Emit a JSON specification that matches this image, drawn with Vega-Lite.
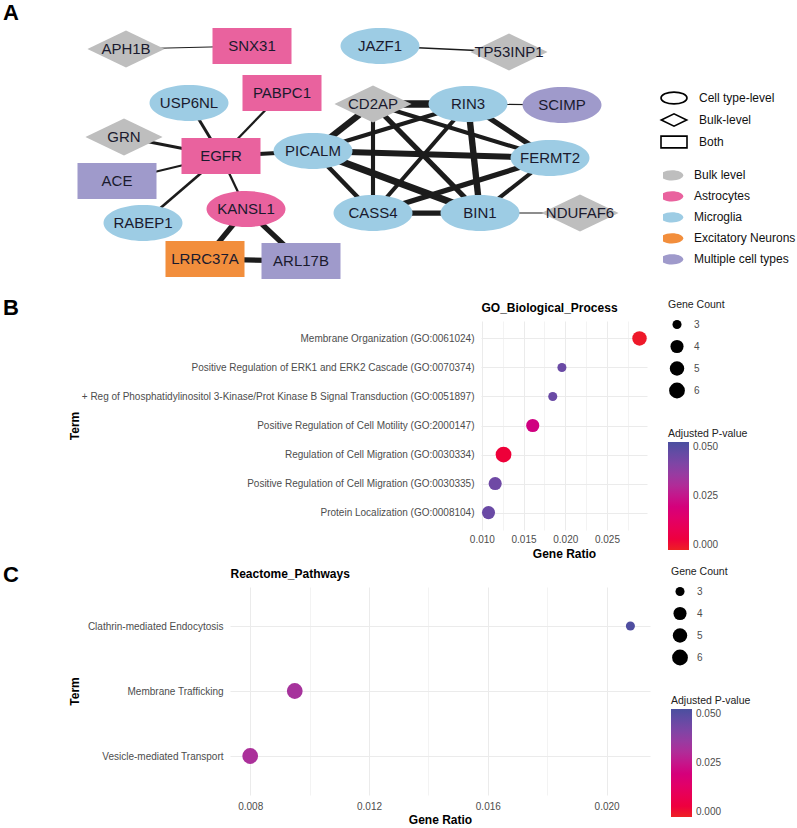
{
  "$schema": "https://vega.github.io/schema/vega-lite/v6.json",
  "padding": {"left": 2, "top": 2, "right": 2, "bottom": 0},
  "background": "white",
  "config": {
    "font": "Liberation Sans",
    "view": {"stroke": null},
    "axis": {"labelFont": "Liberation Sans", "titleFont": "Liberation Sans"},
    "legend": {"labelFont": "Liberation Sans", "titleFont": "Liberation Sans"},
    "title": {"font": "Liberation Sans"}
  },
  "datasets": {
    "spacer": [{"id": "spacer"}],
    "nodes": [
      {"id": "APH1B", "x": 125, "y": 48, "level": "Bulk-level", "cell": "Bulk level"},
      {"id": "SNX31", "x": 251, "y": 45, "level": "Both", "cell": "Astrocytes"},
      {"id": "JAZF1", "x": 379, "y": 45, "level": "Cell type-level", "cell": "Microglia"},
      {"id": "TP53INP1", "x": 508, "y": 51, "level": "Bulk-level", "cell": "Bulk level"},
      {"id": "USP6NL", "x": 188, "y": 102, "level": "Cell type-level", "cell": "Microglia"},
      {"id": "PABPC1", "x": 281, "y": 92, "level": "Both", "cell": "Astrocytes"},
      {"id": "CD2AP", "x": 372, "y": 103, "level": "Bulk-level", "cell": "Bulk level"},
      {"id": "RIN3", "x": 467, "y": 103, "level": "Cell type-level", "cell": "Microglia"},
      {"id": "SCIMP", "x": 561, "y": 104, "level": "Cell type-level", "cell": "Multiple cell types"},
      {"id": "GRN", "x": 123, "y": 136, "level": "Bulk-level", "cell": "Bulk level"},
      {"id": "EGFR", "x": 220, "y": 155, "level": "Both", "cell": "Astrocytes"},
      {"id": "PICALM", "x": 312, "y": 150, "level": "Cell type-level", "cell": "Microglia"},
      {"id": "FERMT2", "x": 549, "y": 157, "level": "Cell type-level", "cell": "Microglia"},
      {"id": "ACE", "x": 116, "y": 180, "level": "Both", "cell": "Multiple cell types"},
      {"id": "KANSL1", "x": 245, "y": 208, "level": "Cell type-level", "cell": "Astrocytes"},
      {"id": "RABEP1", "x": 142, "y": 222, "level": "Cell type-level", "cell": "Microglia"},
      {"id": "CASS4", "x": 372, "y": 212, "level": "Cell type-level", "cell": "Microglia"},
      {"id": "BIN1", "x": 479, "y": 212, "level": "Cell type-level", "cell": "Microglia"},
      {"id": "NDUFAF6", "x": 579, "y": 212, "level": "Bulk-level", "cell": "Bulk level"},
      {"id": "LRRC37A", "x": 204, "y": 258, "level": "Both", "cell": "Excitatory Neurons"},
      {"id": "ARL17B", "x": 300, "y": 260, "level": "Both", "cell": "Multiple cell types"}
    ],
    "edges": [
      {"source": "APH1B", "target": "SNX31", "score": 0.15},
      {"source": "JAZF1", "target": "TP53INP1", "score": 0.2},
      {"source": "USP6NL", "target": "EGFR", "score": 0.4},
      {"source": "PABPC1", "target": "EGFR", "score": 0.3},
      {"source": "GRN", "target": "EGFR", "score": 0.4},
      {"source": "ACE", "target": "EGFR", "score": 0.3},
      {"source": "RABEP1", "target": "EGFR", "score": 0.35},
      {"source": "KANSL1", "target": "EGFR", "score": 0.3},
      {"source": "PICALM", "target": "EGFR", "score": 0.55},
      {"source": "KANSL1", "target": "LRRC37A", "score": 0.7},
      {"source": "KANSL1", "target": "ARL17B", "score": 0.7},
      {"source": "LRRC37A", "target": "ARL17B", "score": 0.7},
      {"source": "RIN3", "target": "SCIMP", "score": 0.15},
      {"source": "BIN1", "target": "NDUFAF6", "score": 0.15},
      {"source": "CD2AP", "target": "RIN3", "score": 1.0},
      {"source": "CD2AP", "target": "PICALM", "score": 0.85},
      {"source": "CD2AP", "target": "CASS4", "score": 0.55},
      {"source": "CD2AP", "target": "BIN1", "score": 0.7},
      {"source": "CD2AP", "target": "FERMT2", "score": 0.55},
      {"source": "RIN3", "target": "PICALM", "score": 0.55},
      {"source": "RIN3", "target": "CASS4", "score": 0.55},
      {"source": "RIN3", "target": "BIN1", "score": 0.85},
      {"source": "RIN3", "target": "FERMT2", "score": 0.7},
      {"source": "PICALM", "target": "FERMT2", "score": 0.8},
      {"source": "PICALM", "target": "CASS4", "score": 0.6},
      {"source": "PICALM", "target": "BIN1", "score": 0.95},
      {"source": "CASS4", "target": "FERMT2", "score": 0.7},
      {"source": "BIN1", "target": "FERMT2", "score": 0.55},
      {"source": "CASS4", "target": "BIN1", "score": 0.7}
    ],
    "go": [
      {"term": "Membrane Organization (GO:0061024)", "ratio": 0.0289, "count": 5, "padj": 0.001},
      {"term": "Positive Regulation of ERK1 and ERK2 Cascade (GO:0070374)", "ratio": 0.0196, "count": 3, "padj": 0.044},
      {"term": "+ Reg of Phosphatidylinositol 3-Kinase/Prot Kinase B Signal Transduction (GO:0051897)", "ratio": 0.0185, "count": 3, "padj": 0.044},
      {"term": "Positive Regulation of Cell Motility (GO:2000147)", "ratio": 0.0161, "count": 4, "padj": 0.0215},
      {"term": "Regulation of Cell Migration (GO:0030334)", "ratio": 0.0126, "count": 6, "padj": 0.004},
      {"term": "Positive Regulation of Cell Migration (GO:0030335)", "ratio": 0.0116, "count": 4, "padj": 0.043},
      {"term": "Protein Localization (GO:0008104)", "ratio": 0.0108, "count": 4, "padj": 0.044}
    ],
    "reactome": [
      {"term": "Clathrin-mediated Endocytosis", "ratio": 0.0208, "count": 3, "padj": 0.049},
      {"term": "Membrane Trafficking", "ratio": 0.0095, "count": 6, "padj": 0.032},
      {"term": "Vesicle-mediated Transport", "ratio": 0.008, "count": 6, "padj": 0.031}
    ]
  },
  "columns": 2,
  "align": "none",
  "spacing": {"row": 5, "column": 0},
  "resolve": {"scale": {"color": "independent", "size": "independent", "shape": "independent"}},
  "concat": [
    {"width": 1, "height": 1, "data": {"name": "spacer"}, "mark": {"type": "point", "opacity": 0, "size": 0, "strokeWidth": 0}},
    {
      "width": 793,
      "height": 265,
      "title": {"text": "A", "anchor": "start", "frame": "group", "offset": 2, "fontSize": 22, "fontWeight": "bold", "color": "#000000"},
      "layer": [
        {
          "data": {"name": "edges"},
          "transform": [
            {"lookup": "source", "from": {"data": {"name": "nodes"}, "key": "id", "fields": ["x", "y"]}, "as": ["sx", "sy"]},
            {"lookup": "target", "from": {"data": {"name": "nodes"}, "key": "id", "fields": ["x", "y"]}, "as": ["tx", "ty"]}
          ],
          "mark": {"type": "rule", "color": "#1c1c1c", "strokeCap": "butt"},
          "encoding": {
            "x": {"field": "sx", "type": "quantitative", "scale": {"domain": [2, 795], "nice": false, "zero": false}, "axis": null},
            "y": {"field": "sy", "type": "quantitative", "scale": {"domain": [26, 291], "nice": false, "zero": false, "reverse": true}, "axis": null},
            "x2": {"field": "tx"},
            "y2": {"field": "ty"},
            "strokeWidth": {"field": "score", "type": "quantitative", "scale": {"domain": [0, 1], "range": [0, 7.5]}, "legend": null}
          }
        },
        {
          "data": {"name": "nodes"},
          "mark": {"type": "point", "filled": true, "opacity": 1, "size": 3693, "strokeWidth": 0},
          "encoding": {
            "x": {"field": "x", "type": "quantitative", "scale": {"domain": [2, 795], "nice": false, "zero": false}, "axis": null},
            "y": {"field": "y", "type": "quantitative", "scale": {"domain": [26, 291], "nice": false, "zero": false, "reverse": true}, "axis": null},
            "shape": {
              "field": "level", "type": "nominal",
              "scale": {
                "domain": ["Cell type-level", "Bulk-level", "Both"],
                "range": [
                  "M-1.3,0C-1.3,-0.327,-0.718,-0.592,0,-0.592C0.718,-0.592,1.3,-0.327,1.3,0C1.3,0.327,0.718,0.592,0,0.592C-0.718,0.592,-1.3,0.327,-1.3,0Z",
                  "M-1.27,0L0,-0.61L1.27,0L0,0.61Z",
                  "M-1.3,-0.592L1.3,-0.592L1.3,0.592L-1.3,0.592Z"
                ]
              },
              "legend": {
                "orient": "none", "legendX": 660, "legendY": 60, "title": null,
                "symbolSize": 400, "symbolFillColor": "#FFFFFF", "symbolStrokeColor": "#000000", "symbolStrokeWidth": 1.6, "symbolOpacity": 1,
                "labelFontSize": 12, "labelColor": "#111111", "labelOffset": 14, "rowPadding": 1
              }
            },
            "color": {
              "field": "cell", "type": "nominal",
              "scale": {
                "domain": ["Bulk level", "Astrocytes", "Microglia", "Excitatory Neurons", "Multiple cell types"],
                "range": ["#BEBEBE", "#E9629E", "#9DCCE4", "#F28E3C", "#9F9ACB"]
              },
              "legend": {
                "orient": "none", "legendX": 660, "legendY": 138, "title": null,
                "symbolType": "M-1.3,0C-1.3,-0.327,-0.718,-0.592,0,-0.592C0.718,-0.592,1.3,-0.327,1.3,0C1.3,0.327,0.718,0.592,0,0.592C-0.718,0.592,-1.3,0.327,-1.3,0Z",
                "symbolSize": 300, "symbolStrokeWidth": 0, "labelFontSize": 12, "labelColor": "#111111", "labelOffset": 13, "rowPadding": 0, "clipHeight": 20.7,
                "encode": {"symbols": {"update": {"strokeWidth": {"value": 0}, "opacity": {"value": 1}}}}
              }
            }
          }
        },
        {
          "data": {"name": "nodes"},
          "mark": {"type": "text", "fontSize": 15, "color": "#1a1a2e", "align": "center", "baseline": "middle"},
          "encoding": {
            "x": {"field": "x", "type": "quantitative", "scale": {"domain": [2, 795], "nice": false, "zero": false}, "axis": null},
            "y": {"field": "y", "type": "quantitative", "scale": {"domain": [26, 291], "nice": false, "zero": false, "reverse": true}, "axis": null},
            "text": {"field": "id"}
          }
        }
      ]
    },
    {"width": 1, "height": 1, "data": {"name": "spacer"}, "mark": {"type": "point", "opacity": 0, "size": 0, "strokeWidth": 0}},
    {
      "width": 166,
      "height": 209,
      "title": {"text": "B", "anchor": "start", "frame": "group", "dx": -478, "dy": 20, "offset": 0, "fontSize": 22, "fontWeight": "bold", "color": "#000000"},
      "data": {"name": "go"},
      "layer": [
        {
          "mark": {"type": "circle", "opacity": 1},
          "encoding": {
            "x": {
              "field": "ratio", "type": "quantitative",
              "scale": {"domain": [0.0099, 0.0298], "nice": false, "zero": false},
              "axis": {"orient": "bottom", "values": [0.01, 0.015, 0.02, 0.025], "format": ".3f", "title": "Gene Ratio",
                       "domain": false, "ticks": false, "grid": true, "gridColor": "#EBEBEB", "gridWidth": 1, "labelFlush": false,
                       "labelFontSize": 10, "labelColor": "#4D4D4D", "labelPadding": 4,
                       "titleFontSize": 12, "titleFontWeight": "bold", "titleColor": "#000000", "titlePadding": 4}
            },
            "y": {
              "field": "term", "type": "nominal", "sort": null,
              "scale": {"type": "point", "padding": 0.6},
              "axis": {"title": "Term", "domain": false, "ticks": false, "grid": true, "gridColor": "#EBEBEB", "gridWidth": 1,
                       "labelFontSize": 10, "labelColor": "#4D4D4D", "labelPadding": 7, "labelLimit": 500,
                       "titleFontSize": 12, "titleFontWeight": "bold", "titleColor": "#000000", "titleX": -400}
            },
            "size": {
              "field": "count", "type": "quantitative", "title": "Gene Count",
              "scale": {"domain": [3, 4, 5, 6], "range": [82, 172, 209, 249]},
              "legend": {"orient": "none", "legendX": 187, "legendY": -21, "values": [3, 4, 5, 6], "format": "d", "symbolType": "circle",
                         "titleFontSize": 10.5, "titleFontWeight": "normal", "titleColor": "#222222", "titlePadding": 3,
                         "labelFontSize": 10, "labelColor": "#4D4D4D", "labelOffset": 8, "rowPadding": 0, "clipHeight": 22,
                         "encode": {"symbols": {"update": {"fill": {"value": "#000000"}, "stroke": {"value": "#000000"}, "strokeWidth": {"value": 0}, "opacity": {"value": 1}}}}}
            },
            "color": {
              "field": "padj", "type": "quantitative", "title": "Adjusted P-value",
              "scale": {"domain": [0, 0.025, 0.05], "range": ["#EE2024", "#C5168B", "#4A4F9F"]},
              "legend": {"orient": "none", "legendX": 187, "legendY": 107.5, "direction": "vertical", "values": [0, 0.025, 0.05], "format": ".3f",
                         "gradientLength": 108, "gradientThickness": 21, "gradientStrokeWidth": 0,
                         "titleFontSize": 10.5, "titleFontWeight": "normal", "titleColor": "#222222", "titlePadding": 3,
                         "labelFontSize": 10, "labelColor": "#4D4D4D", "labelOffset": 4}
            }
          }
        },
        {
          "mark": {"type": "circle", "opacity": 0},
          "encoding": {
            "x": {
              "field": "ratio", "type": "quantitative",
              "scale": {"domain": [0.0099, 0.0298], "nice": false, "zero": false},
              "axis": {"orient": "top", "values": [0.0125, 0.0175, 0.0225, 0.0275], "labels": false, "ticks": false, "domain": false,
                       "grid": true, "gridColor": "#F0F0F0", "gridWidth": 0.8,
                       "title": "GO_Biological_Process", "titleAnchor": "start", "titleAlign": "left",
                       "titleFontSize": 12, "titleFontWeight": "bold", "titleColor": "#000000", "titlePadding": 7}
            }
          }
        }
      ],
      "resolve": {"axis": {"x": "independent"}}
    },
    {"width": 1, "height": 1, "data": {"name": "spacer"}, "mark": {"type": "point", "opacity": 0, "size": 0, "strokeWidth": 0}},
    {
      "width": 420,
      "height": 208,
      "title": {"text": "C", "anchor": "start", "frame": "group", "dx": -227, "dy": 20, "offset": 0, "fontSize": 22, "fontWeight": "bold", "color": "#000000"},
      "data": {"name": "reactome"},
      "layer": [
        {
          "mark": {"type": "circle", "opacity": 1},
          "encoding": {
            "x": {
              "field": "ratio", "type": "quantitative",
              "scale": {"domain": [0.00732, 0.02146], "nice": false, "zero": false},
              "axis": {"orient": "bottom", "values": [0.008, 0.012, 0.016, 0.02], "format": ".3f", "title": "Gene Ratio",
                       "domain": false, "ticks": false, "grid": true, "gridColor": "#EBEBEB", "gridWidth": 1, "labelFlush": false,
                       "labelFontSize": 10, "labelColor": "#4D4D4D", "labelPadding": 6,
                       "titleFontSize": 12, "titleFontWeight": "bold", "titleColor": "#000000", "titlePadding": 3}
            },
            "y": {
              "field": "term", "type": "nominal", "sort": null,
              "scale": {"type": "point", "padding": 0.6},
              "axis": {"title": "Term", "domain": false, "ticks": false, "grid": true, "gridColor": "#EBEBEB", "gridWidth": 1,
                       "labelFontSize": 10, "labelColor": "#4D4D4D", "labelPadding": 7,
                       "titleFontSize": 12, "titleFontWeight": "bold", "titleColor": "#000000", "titlePadding": 6}
            },
            "size": {
              "field": "count", "type": "quantitative", "title": "Gene Count",
              "scale": {"domain": [3, 4, 5, 6], "range": [82, 172, 209, 249]},
              "legend": {"orient": "none", "legendX": 441, "legendY": -20, "values": [3, 4, 5, 6], "format": "d", "symbolType": "circle",
                         "titleFontSize": 10.5, "titleFontWeight": "normal", "titleColor": "#222222", "titlePadding": 3,
                         "labelFontSize": 10, "labelColor": "#4D4D4D", "labelOffset": 8, "rowPadding": 0, "clipHeight": 22,
                         "encode": {"symbols": {"update": {"fill": {"value": "#000000"}, "stroke": {"value": "#000000"}, "strokeWidth": {"value": 0}, "opacity": {"value": 1}}}}}
            },
            "color": {
              "field": "padj", "type": "quantitative", "title": "Adjusted P-value",
              "scale": {"domain": [0, 0.025, 0.05], "range": ["#EE2024", "#C5168B", "#4A4F9F"]},
              "legend": {"orient": "none", "legendX": 441, "legendY": 108.5, "direction": "vertical", "values": [0, 0.025, 0.05], "format": ".3f",
                         "gradientLength": 108, "gradientThickness": 21, "gradientStrokeWidth": 0,
                         "titleFontSize": 10.5, "titleFontWeight": "normal", "titleColor": "#222222", "titlePadding": 3,
                         "labelFontSize": 10, "labelColor": "#4D4D4D", "labelOffset": 4}
            }
          }
        },
        {
          "mark": {"type": "circle", "opacity": 0},
          "encoding": {
            "x": {
              "field": "ratio", "type": "quantitative",
              "scale": {"domain": [0.00732, 0.02146], "nice": false, "zero": false},
              "axis": {"orient": "top", "values": [0.01, 0.014, 0.018], "labels": false, "ticks": false, "domain": false,
                       "grid": true, "gridColor": "#F0F0F0", "gridWidth": 0.8,
                       "title": "Reactome_Pathways", "titleAnchor": "start", "titleAlign": "left",
                       "titleFontSize": 12, "titleFontWeight": "bold", "titleColor": "#000000", "titlePadding": 7}
            }
          }
        }
      ],
      "resolve": {"axis": {"x": "independent"}}
    }
  ]
}
